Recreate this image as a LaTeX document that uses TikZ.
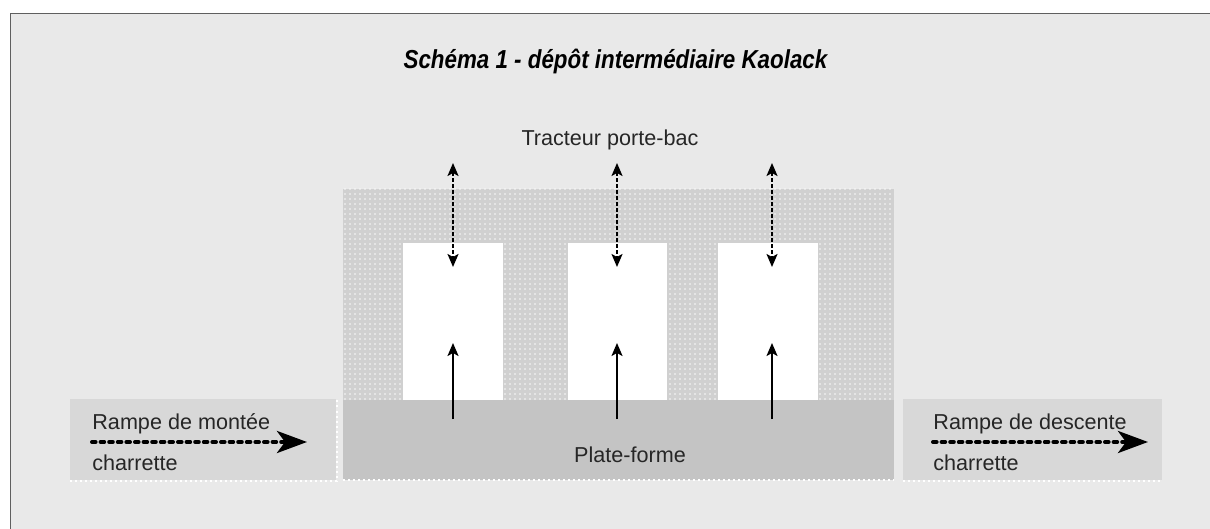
\documentclass[tikz,border=0pt]{standalone}
\usepackage{fontspec}
\setmainfont{Liberation Sans}
\usetikzlibrary{arrows.meta,patterns.meta}
\definecolor{bg}{RGB}{233,233,233}
\definecolor{dotzone}{RGB}{208,208,208}
\definecolor{platcol}{RGB}{196,196,196}
\definecolor{rampcol}{RGB}{216,216,216}
\definecolor{bordercol}{RGB}{95,95,95}
\begin{document}
\begin{tikzpicture}[x=0.5pt,y=-0.5pt,
  lbl/.style={font=\fontsize{10.8}{12}\selectfont, inner sep=0pt, text=black!85},
  titlelbl/.style={font=\fontsize{13}{15}\selectfont\bfseries\itshape, inner sep=0pt},
  zone/.style={draw=none, inner sep=0pt},
  binbox/.style={fill=white, draw=none, minimum width=50pt, minimum height=78.5pt, inner sep=0pt},
  dblarrow/.style={draw=black, line width=1pt, dash pattern=on 2pt off 1pt,
     {Stealth[length=6.5pt,width=5.5pt,inset=1.5pt]}-{Stealth[length=6.5pt,width=5.5pt,inset=1.5pt]}},
  uparrow/.style={draw=black, line width=1pt, -{Stealth[length=6.5pt,width=5.5pt,inset=1.5pt]}},
  ramparrow/.style={draw=black, line width=2pt, line cap=round, dash pattern=on 1.8pt off 2.5pt,
     -{Stealth[length=15pt,width=11pt,inset=4pt,line cap=butt]}},
  whitedots/.style={draw=white, line width=1pt, dash pattern=on 1pt off 1.5pt}
]
\useasboundingbox (0,0) rectangle (1210,529);
% background and frame
\fill[bg] (10,13) rectangle (1210,529);
\draw[bordercol, line width=0.9pt] (10.5,529) -- (10.5,13.5) -- (1210,13.5);

% title
\node[titlelbl] (title) at (615.5,61) {\scalebox{0.86}[1]{Schéma 1 - dépôt intermédiaire Kaolack}};

% dotted storage zone
\node[zone, fill=dotzone, minimum width=275.5pt, minimum height=105.5pt] (store) at (618.5,294.5) {};
\fill[pattern={Dots[distance=2.5pt,radius=0.45pt]}, pattern color=white!90!dotzone] (store.north west) rectangle (store.south east);

% plate-forme
\node[zone, fill=platcol, minimum width=275.5pt, minimum height=40pt] (plat) at (618.5,440) {};
\draw[whitedots] (343,480) -- (894,480);
\node[lbl, anchor=base] (platlbl) at (630,462) {Plate-forme};

% bins
\node[binbox] (bin1) at (453,321.5) {};
\node[binbox, minimum width=49.5pt] (bin2) at (617.5,321.5) {};
\node[binbox] (bin3) at (768,321.5) {};

% tractor label
\node[lbl, anchor=base] (tract) at (610,146) {Tracteur porte-bac};

% ramps
\node[zone, fill=rampcol, minimum width=133pt, minimum height=40.5pt] (rampL) at (203,439.5) {};
\node[zone, fill=rampcol, minimum width=129.5pt, minimum height=40.5pt] (rampR) at (1032.5,439.5) {};
\draw[whitedots] (70,480.5) -- (337,480.5) -- (337,399);
\draw[whitedots] (903,480.5) -- (1162,480.5);

\node[lbl, anchor=base west] (rampLtop) at (92,429) {Rampe de montée};
\node[lbl, anchor=base west] (rampLbot) at (92,470) {charrette};
\node[lbl, anchor=base west] (rampRtop) at (933,429) {Rampe de descente};
\node[lbl, anchor=base west] (rampRbot) at (933,470) {charrette};

\coordinate (rl1) at (92,442);
\coordinate (rl2) at (307,442);
\coordinate (rr1) at (933,442);
\coordinate (rr2) at (1148,442);
\draw[ramparrow] (rl1) -- (rl2);
\draw[ramparrow] (rr1) -- (rr2);

% tractor arrows
\coordinate (t1) at (453,163);  \coordinate (d1) at (453,267);
\coordinate (t2) at (617,163);  \coordinate (d2) at (617,267);
\coordinate (t3) at (772,163);  \coordinate (d3) at (772,267);
\draw[dblarrow] (t1) -- (d1);
\draw[dblarrow] (t2) -- (d2);
\draw[dblarrow] (t3) -- (d3);

% platform arrows
\coordinate (p1) at (453,419);  \coordinate (u1) at (453,343);
\coordinate (p2) at (617,419);  \coordinate (u2) at (617,343);
\coordinate (p3) at (772,419);  \coordinate (u3) at (772,343);
\draw[uparrow] (p1) -- (u1);
\draw[uparrow] (p2) -- (u2);
\draw[uparrow] (p3) -- (u3);
\end{tikzpicture}
\end{document}
